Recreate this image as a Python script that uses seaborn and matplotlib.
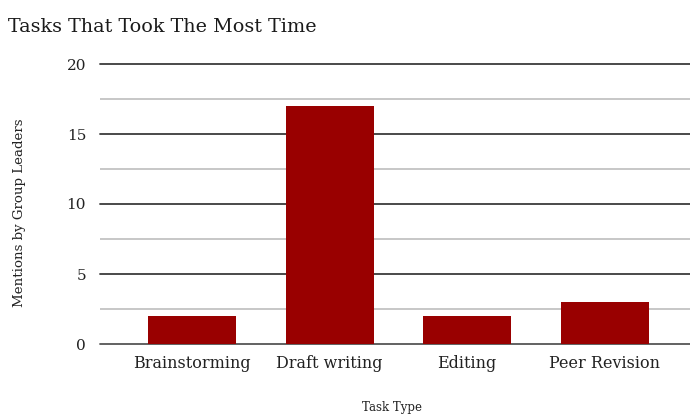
import matplotlib
matplotlib.use("Agg")
import matplotlib.pyplot as plt
import seaborn as sns
import pandas as pd

tasks = ["Brainstorming", "Draft writing", "Editing", "Peer Revision"]
mentions = [2, 17, 2, 3]
y_ticks = [0, 5, 10, 15, 20]

sns.set_theme(style="white")
plt.rcParams["font.family"] = ["DejaVu Serif"]

df = pd.DataFrame({"Task Type": tasks, "Mentions": mentions})

fig = plt.figure(figsize=(6.9, 4.16), dpi=100)
ax = fig.add_axes([100 / 690, 1 - 344 / 416, 590 / 690, 280 / 416])

# light minor gridlines between the labelled values
for v in [2.5, 7.5, 12.5, 17.5]:
    ax.axhline(v, color="#b8b8b8", lw=1.1, zorder=0)
for v in y_ticks:
    ax.axhline(v, color="#3a3a3a" if v else "#555555", lw=1.3, zorder=0,
               clip_on=False)

sns.barplot(data=df, x="Task Type", y="Mentions", color="#990000",
            saturation=1, width=0.64, linewidth=0, ax=ax, zorder=2)

ax.set_ylim(0, 20)
ax.set_xlim(-0.67, 3.62)
ax.set_yticks(y_ticks)
ax.set_yticklabels([str(v) for v in y_ticks], fontsize=11, color="#222222")
ax.tick_params(axis="y", length=0, pad=10)
ax.tick_params(axis="x", length=0, pad=8, labelsize=11.5, labelcolor="#222222")
for s in ax.spines.values():
    s.set_visible(False)

ax.set_xlabel("")
ax.set_ylabel("")
fig.text(392 / 690, 1 - 408 / 416, "Task Type", ha="center", va="center",
         fontsize=8.5, color="#222222")
fig.text(20 / 690, 1 - 213 / 416, "Mentions by Group Leaders", ha="center",
         va="center", rotation=90, fontsize=9.6, color="#222222")
fig.text(8 / 690, 1 - 27 / 416, "Tasks That Took The Most Time", ha="left",
         va="center", fontsize=13.8, color="#1a1a1a")

fig.savefig("out.png", dpi=100, facecolor="white")
